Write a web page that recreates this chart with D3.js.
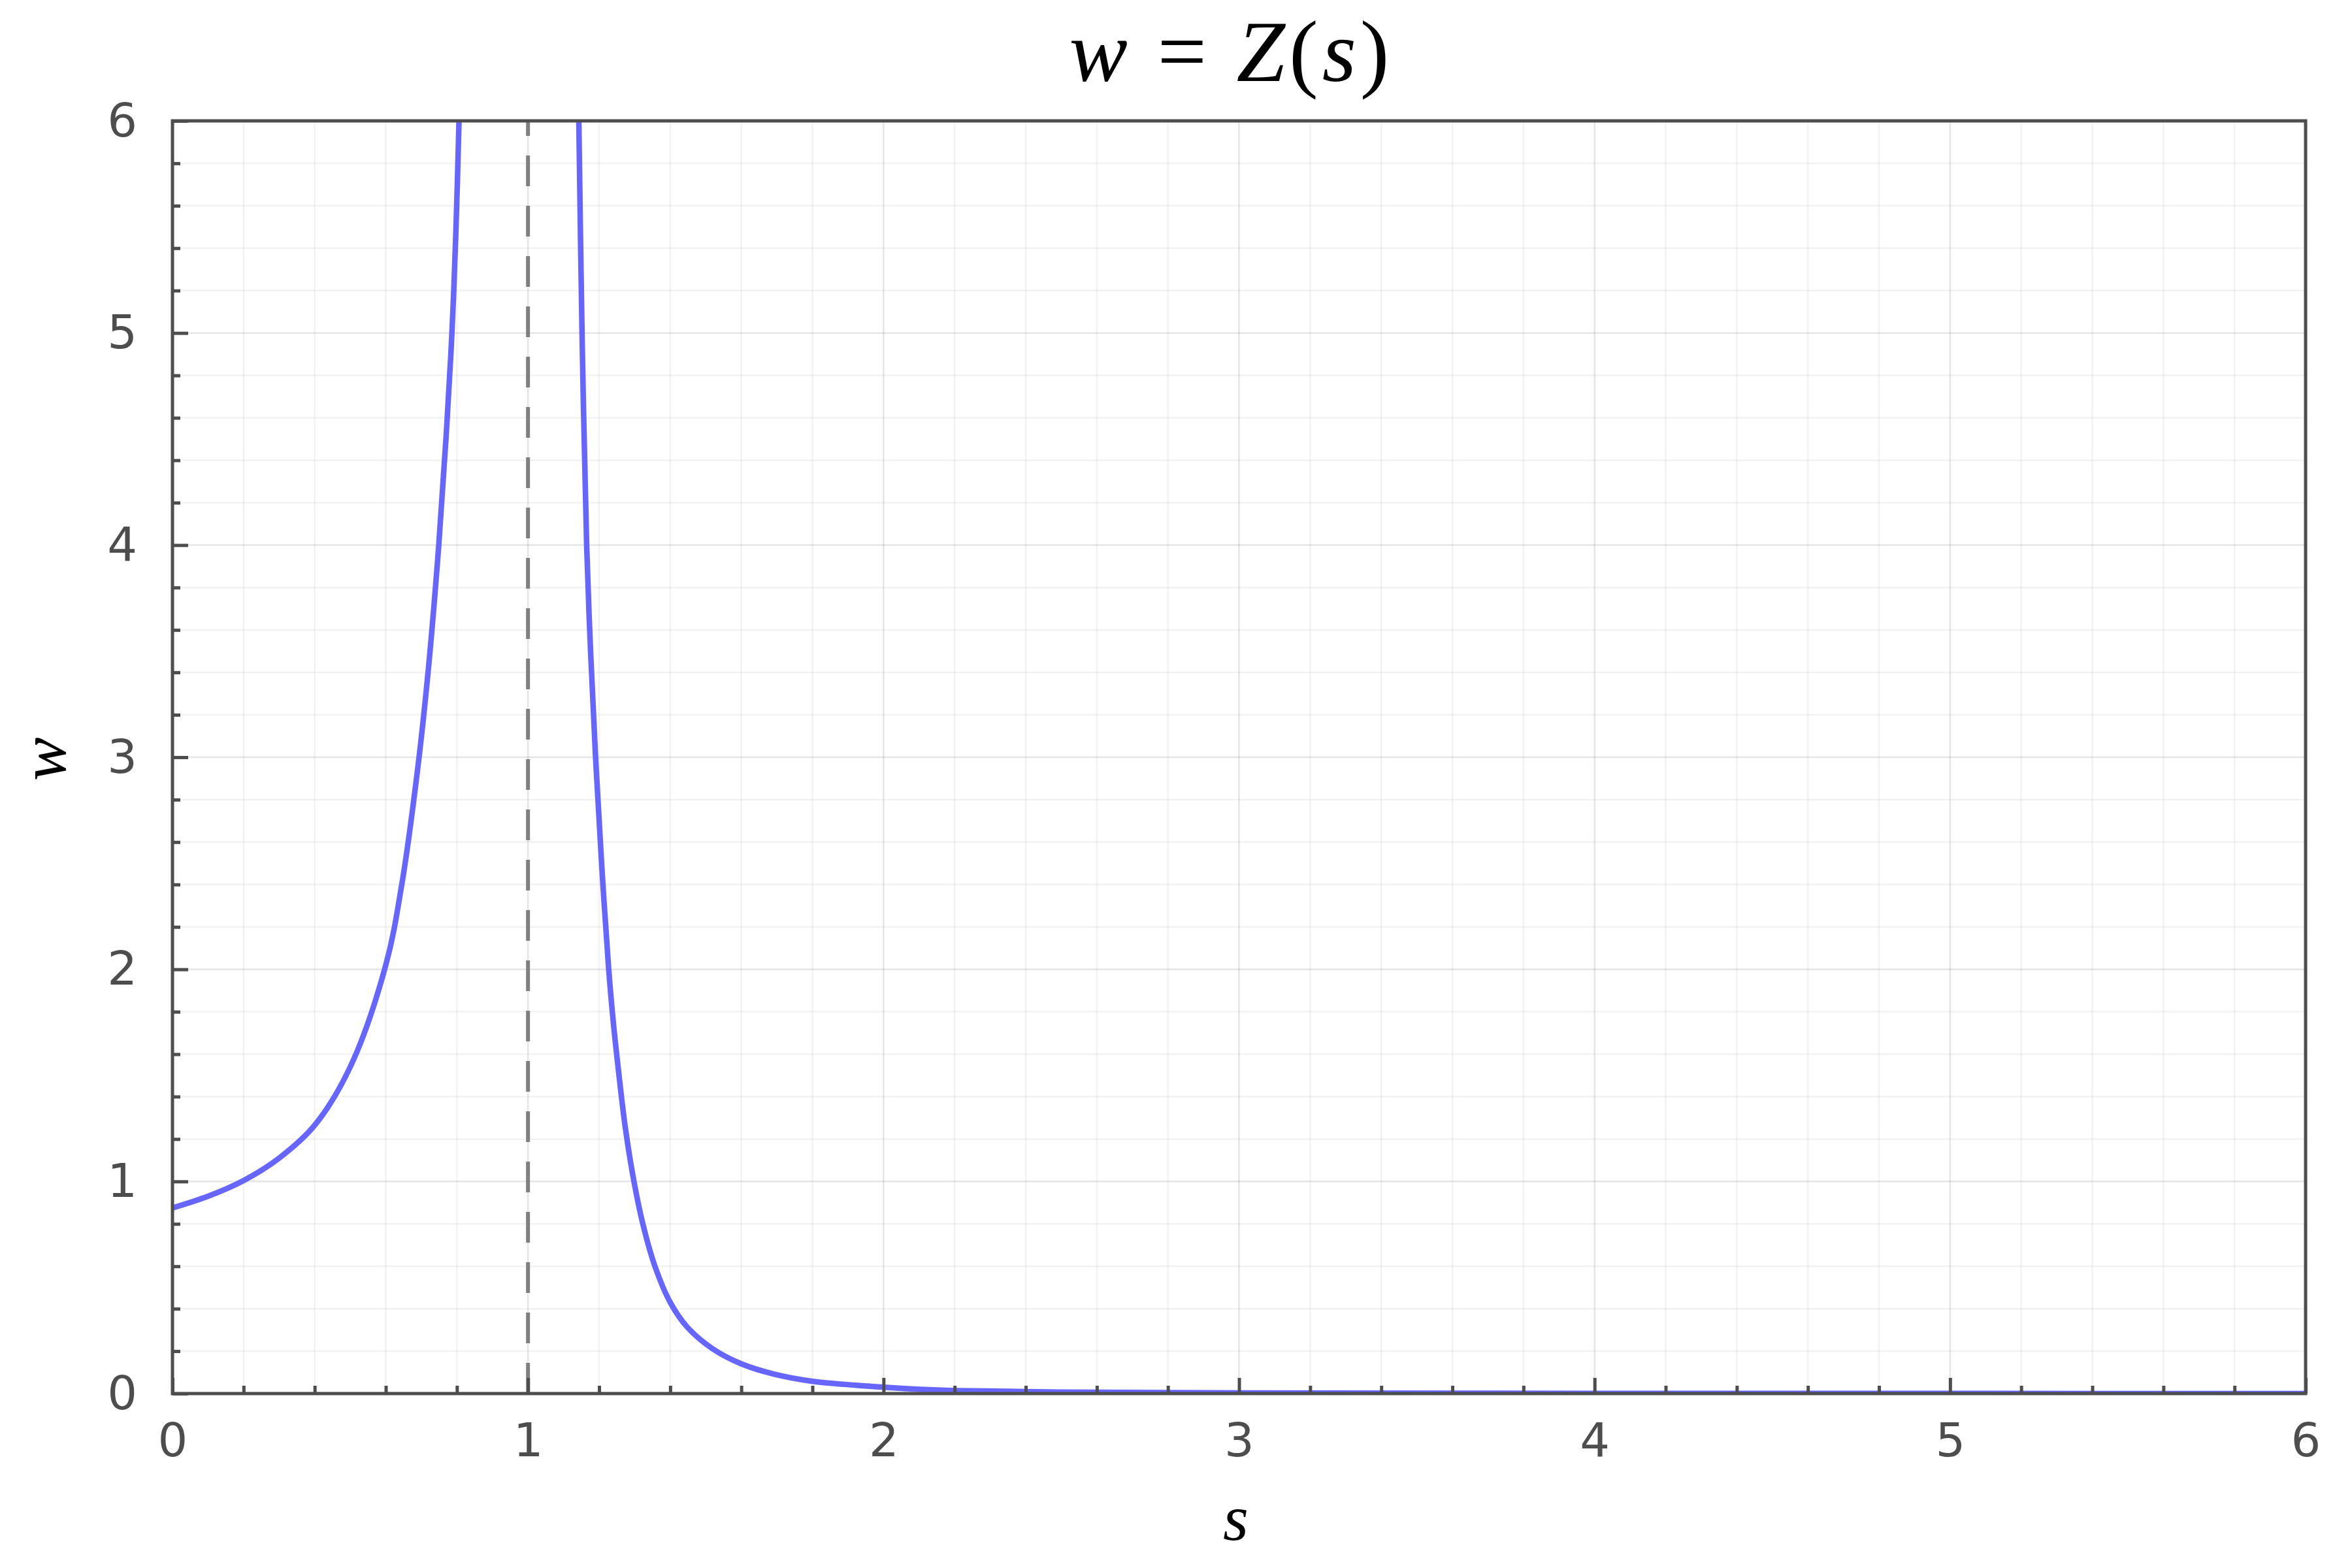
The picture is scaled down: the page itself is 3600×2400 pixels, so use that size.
<!DOCTYPE html>
<html>
<head>
<meta charset="utf-8">
<script src="https://cdn.jsdelivr.net/npm/d3@7"></script>
<style>
  html, body { margin: 0; padding: 0; background: #ffffff; }
  svg { display: block; }
</style>
</head>
<body>
<svg id="chart" width="3600" height="2400"></svg>
<script>
// ---------------- data ----------------
const titleParts = [
  { t: "w", italic: true },
  { t: " = ", italic: false },
  { t: "Z", italic: true },
  { t: "(", italic: false },
  { t: "s", italic: true },
  { t: ")", italic: false }
];
const xLabel = "s";
const yLabel = "w";
const xDomain = [0, 6];
const yDomain = [0, 6];
const xMajorTicks = [0, 1, 2, 3, 4, 5, 6];
const yMajorTicks = [0, 1, 2, 3, 4, 5, 6];
const xTickLabels = ["0", "1", "2", "3", "4", "5", "6"];
const yTickLabels = ["0", "1", "2", "3", "4", "5", "6"];
const minorPerMajor = 5;
const poleLine = [1];

// left branch (s < 1)
const leftS = [0, 0.1, 0.2, 0.3, 0.4, 0.5, 0.6, 0.645, 0.690, 0.720, 0.749, 0.770, 0.786, 0.797, 0.806];
const leftW = [0.875, 0.93, 1.004, 1.11, 1.265, 1.54, 2.02, 2.4, 2.95, 3.42, 4.0, 4.52, 5.0, 5.47, 6.0];

// right branch (s > 1)
const rightS = [1.143, 1.152, 1.165, 1.176, 1.190, 1.207, 1.227, 1.240, 1.256, 1.274, 1.298, 1.323, 1.357, 1.400, 1.447, 1.520, 1.600, 1.691, 1.800, 2.000, 2.100, 2.200, 2.500, 3.000, 4.000, 5.000, 6.000];
const rightW = [6.0, 5.0, 4.0, 3.5, 3.0, 2.5, 2.0, 1.75, 1.5, 1.25, 1.0, 0.8, 0.6, 0.43, 0.315, 0.21, 0.14, 0.092, 0.058, 0.03, 0.02, 0.014, 0.007, 0.003, 0.001, 0.0005, 0.0002];

// ---------------- layout ----------------
const W = 3600, H = 2400;
const plot = { left: 264, right: 3529, top: 185, bottom: 2133 };
const axisColor = "#4d4d4d";
const curveColor = "#6666ff";

const svg = d3.select("#chart");
svg.append("rect").attr("width", W).attr("height", H).attr("fill", "#ffffff");

const x = d3.scaleLinear().domain(xDomain).range([plot.left, plot.right]);
const y = d3.scaleLinear().domain(yDomain).range([plot.bottom, plot.top]);

function minorTicks(majors) {
  const out = [];
  for (let i = 0; i < majors.length - 1; i++) {
    const a = majors[i], b = majors[i + 1];
    for (let k = 1; k < minorPerMajor; k++) out.push(a + (b - a) * k / minorPerMajor);
  }
  return out;
}
const xMinor = minorTicks(xMajorTicks);
const yMinor = minorTicks(yMajorTicks);

// ---------------- grid ----------------
const grid = svg.append("g");
grid.selectAll("line.xmin").data(xMinor).join("line")
  .attr("x1", d => x(d)).attr("x2", d => x(d))
  .attr("y1", plot.top).attr("y2", plot.bottom)
  .attr("stroke", "#000").attr("stroke-opacity", 0.05).attr("stroke-width", 2.5);
grid.selectAll("line.ymin").data(yMinor).join("line")
  .attr("y1", d => y(d)).attr("y2", d => y(d))
  .attr("x1", plot.left).attr("x2", plot.right)
  .attr("stroke", "#000").attr("stroke-opacity", 0.05).attr("stroke-width", 2.5);
grid.selectAll("line.xmaj").data(xMajorTicks).join("line")
  .attr("x1", d => x(d)).attr("x2", d => x(d))
  .attr("y1", plot.top).attr("y2", plot.bottom)
  .attr("stroke", "#000").attr("stroke-opacity", 0.1).attr("stroke-width", 2.5);
grid.selectAll("line.ymaj").data(yMajorTicks).join("line")
  .attr("y1", d => y(d)).attr("y2", d => y(d))
  .attr("x1", plot.left).attr("x2", plot.right)
  .attr("stroke", "#000").attr("stroke-opacity", 0.1).attr("stroke-width", 2.5);

// ---------------- pole line ----------------
svg.append("g").selectAll("line").data(poleLine).join("line")
  .attr("x1", d => x(d)).attr("x2", d => x(d))
  .attr("y1", y(yDomain[0])).attr("y2", y(yDomain[1]))
  .attr("stroke", "#808080").attr("stroke-width", 6)
  .attr("stroke-dasharray", "47,30");

// ---------------- curves ----------------
svg.append("defs").append("clipPath").attr("id", "clip")
  .append("rect").attr("x", plot.left).attr("y", plot.top)
  .attr("width", plot.right - plot.left).attr("height", plot.bottom - plot.top);

const line = d3.line().x(d => x(d[0])).y(d => y(d[1])).curve(d3.curveCatmullRom.alpha(0.5));
const branches = [
  leftS.map((s, i) => [s, leftW[i]]),
  rightS.map((s, i) => [s, rightW[i]])
];
svg.append("g").attr("clip-path", "url(#clip)")
  .selectAll("path").data(branches).join("path")
  .attr("d", line)
  .attr("fill", "none")
  .attr("stroke", curveColor)
  .attr("stroke-width", 8.5)
  .attr("stroke-linejoin", "round");

// ---------------- axes ----------------
const tickFont = "'DejaVu Sans', sans-serif";
function styleAxis(g) {
  g.select(".domain").remove();
  g.selectAll(".tick line").attr("stroke", axisColor).attr("stroke-width", 5);
  g.selectAll(".tick text").attr("fill", axisColor)
    .style("font-family", tickFont).style("font-size", "72px");
}

const xAxis = d3.axisBottom(x).tickValues(xMajorTicks)
  .tickFormat((d, i) => xTickLabels[i]).tickSizeInner(-24).tickSizeOuter(0).tickPadding(45);
svg.append("g").attr("transform", `translate(0,${plot.bottom})`).call(xAxis).call(styleAxis);

const xAxisMinor = d3.axisBottom(x).tickValues(xMinor).tickFormat("").tickSizeInner(-12).tickSizeOuter(0);
svg.append("g").attr("transform", `translate(0,${plot.bottom})`).call(xAxisMinor).call(styleAxis);

const yAxis = d3.axisLeft(y).tickValues(yMajorTicks)
  .tickFormat((d, i) => yTickLabels[i]).tickSizeInner(-24).tickSizeOuter(0).tickPadding(54);
svg.append("g").attr("transform", `translate(${plot.left},0)`).call(yAxis).call(styleAxis);

const yAxisMinor = d3.axisLeft(y).tickValues(yMinor).tickFormat("").tickSizeInner(-12).tickSizeOuter(0);
svg.append("g").attr("transform", `translate(${plot.left},0)`).call(yAxisMinor).call(styleAxis);

// frame
svg.append("rect")
  .attr("x", plot.left).attr("y", plot.top)
  .attr("width", plot.right - plot.left).attr("height", plot.bottom - plot.top)
  .attr("fill", "none").attr("stroke", axisColor).attr("stroke-width", 5);

// ---------------- labels ----------------
const mathFont = "'Liberation Serif', 'DejaVu Serif', serif";
const title = svg.append("text")
  .attr("x", (plot.left + plot.right) / 2 - 12)
  .attr("y", 124)
  .attr("text-anchor", "middle")
  .attr("xml:space", "preserve")
  .style("font-family", mathFont)
  .style("font-size", "134px")
  .style("letter-spacing", "6px")
  .attr("fill", "#000");
title.selectAll("tspan").data(titleParts).join("tspan")
  .style("font-style", d => d.italic ? "italic" : "normal")
  .text(d => d.t);

svg.append("text")
  .attr("x", (plot.left + plot.right) / 2 - 5)
  .attr("y", 2357)
  .attr("text-anchor", "middle")
  .style("font-family", mathFont)
  .style("font-style", "italic")
  .style("font-size", "100px")
  .attr("fill", "#000")
  .text(xLabel);

svg.append("text")
  .attr("transform", `translate(100,${(plot.top + plot.bottom) / 2 + 3}) rotate(-90)`)
  .attr("text-anchor", "middle")
  .style("font-family", mathFont)
  .style("font-style", "italic")
  .style("font-size", "100px")
  .attr("fill", "#000")
  .text(yLabel);
</script>
</body>
</html>
